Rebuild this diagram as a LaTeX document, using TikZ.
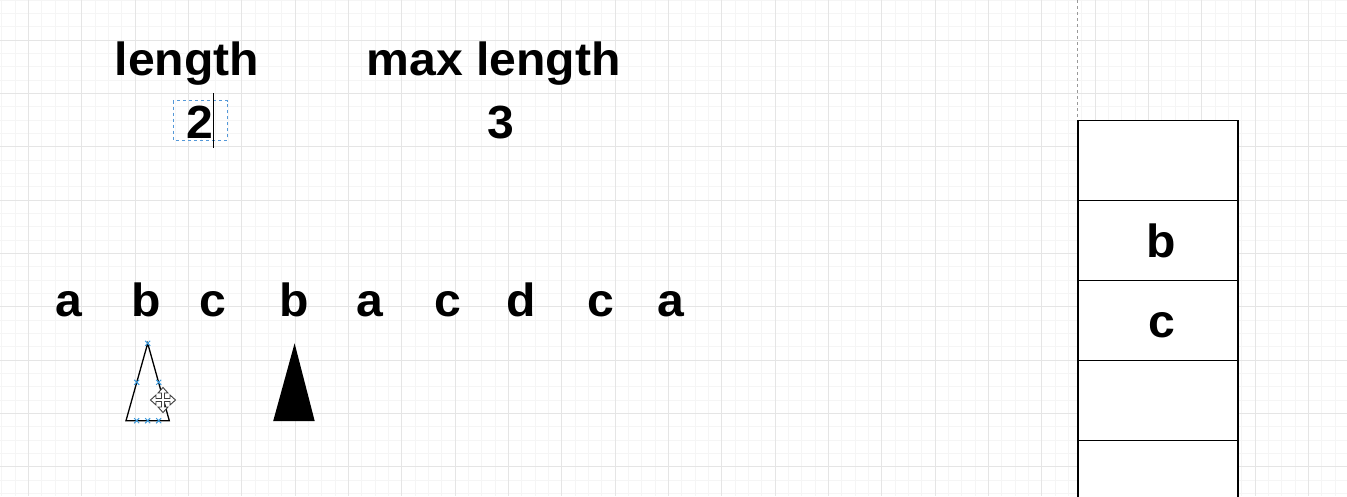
\documentclass[tikz,border=0pt]{standalone}
\usepackage{fontspec}
\setmainfont{Liberation Sans}[BoldFeatures={FakeStretch=1.035}]
\begin{document}
\begin{tikzpicture}[x=1pt,y=-1pt,
  minorl/.style={draw=black!4,line width=0.7pt},
  majorl/.style={draw=black!10,line width=1pt},
  lbl/.style={font=\fontsize{46.5}{46}\selectfont\bfseries,inner sep=0pt,anchor=base},
  cell/.style={draw=black,line width=1.3pt,fill=white,minimum width=160pt,minimum height=80pt,inner sep=0pt,anchor=north west,
    font=\fontsize{46.5}{46}\selectfont\bfseries,text height=33pt,text depth=0pt},
  tri/.style={draw=black,line width=1.3pt,line join=miter},
  xmarker/.style={draw=cyan!70!blue!80,line width=1pt},
  sel/.style={draw=cyan!60!blue!70,line width=1pt,dash pattern=on 3pt off 3pt}]
\useasboundingbox (0,0) rectangle (1347,496);
\clip (0,0) rectangle (1347,496);
\fill[white] (0,0) rectangle (1347,496);
% grid
\foreach \i in {0,...,101} {\draw[minorl] ({1.667+13.333*\i},0) -- ({1.667+13.333*\i},496);}
\foreach \j in {0,...,38} {\draw[minorl] (0,{13.333*\j}) -- (1347,{13.333*\j});}
\foreach \i in {0,...,25} {\draw[majorl] ({28.333+53.333*\i},0) -- ({28.333+53.333*\i},496);}
\foreach \j in {0,...,9} {\draw[majorl] (0,{40+53.333*(\j-1)}) -- (1347,{40+53.333*(\j-1)});}
% page boundary
\draw[black!40,line width=0.8pt,dash pattern=on 3pt off 3pt] (1077.3,0) -- (1077.3,120);
% headings
\node[lbl] (len) at (187,75) {length};
\node[lbl] (maxlen) at (493.5,75) {max length};
\node[lbl] (two) at (200,138) {2};
\node[lbl] (three) at (501,138) {3};
% selection box and caret
\draw[sel] (173.3,100.7) rectangle (227.3,140);
\draw[black,line width=1pt] (213.3,93.3) -- (213.3,148.3);
% letter row
\foreach \x/\c/\n in {69/a/l1,146/b/l2,213/c/l3,294/b/l4,369.5/a/l5,447.5/c/l6,521/d/l7,601/c/l8,670.5/a/l9}
  {\node[lbl] (\n) at (\x,316.5) {\c};}
% outline triangle
\coordinate (ta) at (147.7,343.3);
\coordinate (tl) at (126,420.7);
\coordinate (tr) at (169.3,420.7);
\draw[tri] (ta) -- (tl) -- (tr) -- cycle;
\foreach \p in {(147.7,343.3),(136.7,382.3),(158.7,382.3),(136.7,420.7),(147.7,420.7),(158.7,420.7)}
  {\draw[xmarker] \p ++(-2.5,-2.5) -- ++(5,5) \p ++(-2.5,2.5) -- ++(5,-5);}
% filled triangle
\coordinate (fa) at (294.6,343.3);
\coordinate (fl) at (273.2,421);
\coordinate (fr) at (314.7,421);
\fill[black] (fa) -- (fl) -- (fr) -- cycle;
% move cursor
\begin{scope}[shift={(163,400)}]
\draw[fill=white,draw=black!75,line width=0.9pt,line join=miter]
 (0,-12.5) -- (5,-7) -- (1.5,-7) -- (1.5,-1.5) -- (7,-1.5) -- (7,-5) -- (12.5,0) -- (7,5) -- (7,1.5) -- (1.5,1.5)
 -- (1.5,7) -- (5,7) -- (0,12.5) -- (-5,7) -- (-1.5,7) -- (-1.5,1.5) -- (-7,1.5) -- (-7,5) -- (-12.5,0) -- (-7,-5)
 -- (-7,-1.5) -- (-1.5,-1.5) -- (-1.5,-7) -- (-5,-7) -- cycle;
\end{scope}
% stack
\node[cell] (s1) at (1077.3,120) {};
\node[cell] (s2) at (1077.3,200) {\hspace*{7pt}b};
\node[cell] (s3) at (1077.3,280) {\hspace*{7pt}c};
\node[cell] (s4) at (1077.3,360) {};
\node[cell] (s5) at (1077.3,440) {};
\end{tikzpicture}
\end{document}
